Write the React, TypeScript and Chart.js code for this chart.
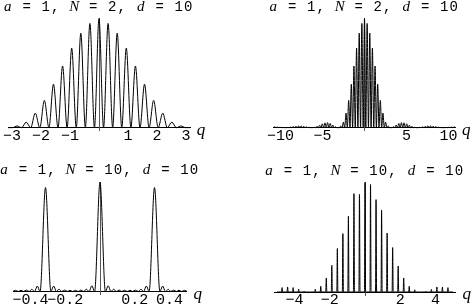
import React, { useEffect, useRef } from 'react';
import { Chart, registerables } from 'chart.js';

Chart.register(...registerables);

// ---------- text ----------
const topTitle = 'a = 1, N = 2, d = 10';
const bottomTitle = 'a = 1, N = 10, d = 10';
const axisName = 'q';

// ---------- tick labels ----------
const topLeftTicks = [-3, -2, -1, 1, 2, 3];
const topRightTicks = [-10, -5, 5, 10];
const bottomLeftTicks = [-0.4, -0.2, 0.2, 0.4];
const bottomRightTicks = [-4, -2, 2, 4];

// ---------- N = 2 pattern (fringe maxima and minima) ----------
const twoSlitQ = [
  -10.838, -10.681, -10.524, -10.367, -10.21, -10.053, -9.896, -9.739, -9.582, -9.425,
  -9.268, -9.111, -8.954, -8.796, -8.639, -8.482, -8.325, -8.168, -8.011, -7.854,
  -7.697, -7.54, -7.383, -7.226, -7.069, -6.912, -6.754, -6.597, -6.44, -6.283,
  -6.126, -5.969, -5.812, -5.655, -5.498, -5.341, -5.184, -5.027, -4.869, -4.712,
  -4.555, -4.398, -4.241, -4.084, -3.927, -3.77, -3.613, -3.456, -3.299, -3.142,
  -2.985, -2.827, -2.67, -2.513, -2.356, -2.199, -2.042, -1.885, -1.728, -1.571,
  -1.414, -1.257, -1.1, -0.942, -0.785, -0.628, -0.471, -0.314, -0.157, 0,
  0.157, 0.314, 0.471, 0.628, 0.785, 0.942, 1.1, 1.257, 1.414, 1.571,
  1.728, 1.885, 2.042, 2.199, 2.356, 2.513, 2.67, 2.827, 2.985, 3.142,
  3.299, 3.456, 3.613, 3.77, 3.927, 4.084, 4.241, 4.398, 4.555, 4.712,
  4.869, 5.027, 5.184, 5.341, 5.498, 5.655, 5.812, 5.969, 6.126, 6.283,
  6.44, 6.597, 6.754, 6.912, 7.069, 7.226, 7.383, 7.54, 7.697, 7.854,
  8.011, 8.168, 8.325, 8.482, 8.639, 8.796, 8.954, 9.111, 9.268, 9.425,
  9.582, 9.739, 9.896, 10.053, 10.21, 10.367, 10.524, 10.681, 10.838,
];
const twoSlitI = [
  0, 0.007, 0, 0.005, 0, 0.003, 0, 0.001, 0, 0,
  0, 0.001, 0, 0.004, 0, 0.009, 0, 0.013, 0, 0.016,
  0, 0.016, 0, 0.012, 0, 0.007, 0, 0.002, 0, 0,
  0, 0.003, 0, 0.011, 0, 0.022, 0, 0.035, 0, 0.044,
  0, 0.046, 0, 0.038, 0, 0.024, 0, 0.008, 0, 0,
  0, 0.015, 0, 0.05, 0, 0.133, 0, 0.25, 0, 0.398,
  0, 0.565, 0, 0.728, 0, 0.865, 0, 0.955, 0, 1.0,
  0, 0.955, 0, 0.865, 0, 0.728, 0, 0.565, 0, 0.398,
  0, 0.25, 0, 0.133, 0, 0.05, 0, 0.015, 0, 0,
  0, 0.008, 0, 0.024, 0, 0.038, 0, 0.046, 0, 0.044,
  0, 0.035, 0, 0.022, 0, 0.011, 0, 0.003, 0, 0,
  0, 0.002, 0, 0.007, 0, 0.012, 0, 0.016, 0, 0.016,
  0, 0.013, 0, 0.009, 0, 0.004, 0, 0.001, 0, 0,
  0, 0.001, 0, 0.003, 0, 0.005, 0, 0.007, 0,
];

// ---------- N = 10 pattern, close view (bottom-left panel) ----------
const tenSlitNearQ = [
  -0.503, -0.487, -0.471, -0.455, -0.44, -0.424, -0.408, -0.393, -0.377, -0.361,
  -0.345, -0.314, -0.283, -0.267, -0.251, -0.236, -0.22, -0.204, -0.188, -0.173,
  -0.157, -0.141, -0.126, -0.11, -0.094, -0.079, -0.063, -0.047, -0.031, 0,
  0.031, 0.047, 0.063, 0.079, 0.094, 0.11, 0.126, 0.141, 0.157, 0.173,
  0.188, 0.204, 0.22, 0.236, 0.251, 0.267, 0.283, 0.314, 0.345, 0.361,
  0.377, 0.393, 0.408, 0.424, 0.44, 0.455, 0.471, 0.487, 0.503,
];
const tenSlitNearI = [
  0, 0.011, 0, 0.011, 0, 0.013, 0, 0.02, 0, 0.05,
  0, 0.95, 0, 0.05, 0, 0.021, 0, 0.013, 0, 0.011,
  0, 0.011, 0, 0.013, 0, 0.021, 0, 0.052, 0, 1.0,
  0, 0.052, 0, 0.021, 0, 0.013, 0, 0.011, 0, 0.011,
  0, 0.013, 0, 0.021, 0, 0.05, 0, 0.95, 0, 0.05,
  0, 0.02, 0, 0.013, 0, 0.011, 0, 0.011, 0,
];

// ---------- N = 10 pattern, wide view (bottom-right panel) ----------
const tenSlitWideQ = [
  -5.0,
  -4.743, -4.712, -4.681, -4.429, -4.398, -4.367, -4.115, -4.084, -4.053,
  -3.801, -3.77, -3.739, -3.487, -3.456, -3.425, -3.173, -3.142, -3.111,
  -2.858, -2.827, -2.796, -2.544, -2.513, -2.482, -2.23, -2.199, -2.168,
  -1.916, -1.885, -1.854, -1.602, -1.571, -1.54, -1.288, -1.257, -1.226,
  -0.974, -0.943, -0.912, -0.659, -0.628, -0.597, -0.345, -0.314, -0.283,
  -0.031, 0, 0.031,
  0.283, 0.314, 0.345, 0.597, 0.628, 0.659, 0.912, 0.943, 0.974,
  1.226, 1.257, 1.288, 1.54, 1.571, 1.602, 1.854, 1.885, 1.916,
  2.168, 2.199, 2.23, 2.482, 2.513, 2.544, 2.796, 2.827, 2.858,
  3.111, 3.142, 3.173, 3.425, 3.456, 3.487, 3.739, 3.77, 3.801,
  4.053, 4.084, 4.115, 4.367, 4.398, 4.429, 4.681, 4.712, 4.743,
  5.0,
];
const tenSlitWideI = [
  0,
  0, 0.04, 0, 0, 0.046, 0, 0, 0.04, 0,
  0, 0.027, 0, 0, 0.008, 0, 0, 0, 0,
  0, 0.025, 0, 0, 0.052, 0, 0, 0.128, 0,
  0, 0.243, 0, 0, 0.396, 0, 0, 0.532, 0,
  0, 0.69, 0, 0, 0.897, 0, 0, 0.89, 0,
  0, 1.0, 0,
  0, 0.98, 0, 0, 0.842, 0, 0, 0.745, 0,
  0, 0.538, 0, 0, 0.405, 0, 0, 0.237, 0,
  0, 0.128, 0, 0, 0.052, 0, 0, 0.02, 0,
  0, 0, 0, 0, 0.008, 0, 0, 0.024, 0,
  0, 0.046, 0, 0, 0.046, 0, 0, 0.04, 0,
  0,
];

type Pad = { left: number; right: number; top: number; bottom: number };
type Panel = {
  left: number; top: number; width: number; height: number;
  title: string; titleY: number;
  q: number[]; I: number[]; ticks: number[];
  xMin: number; xMax: number; yMin: number; yMax: number;
  pad: Pad;
};

const panels: Panel[] = [
  {
    left: 0, top: 0, width: 236, height: 152, title: topTitle, titleY: 10.5,
    q: twoSlitQ, I: twoSlitI, ticks: topLeftTicks,
    xMin: -3.14, xMax: 3.14, yMin: -0.03, yMax: 1.0,
    pad: { left: 8, right: 46, top: 18.5, bottom: 21.1 },
  },
  {
    left: 236, top: 0, width: 237, height: 152, title: topTitle, titleY: 10.5,
    q: twoSlitQ, I: twoSlitI, ticks: topRightTicks,
    xMin: -10.8, xMax: 10.8, yMin: -0.03, yMax: 1.0,
    pad: { left: 37.8, right: 17.8, top: 18.5, bottom: 21.1 },
  },
  {
    left: 0, top: 152, width: 236, height: 153, title: bottomTitle, titleY: 22,
    q: tenSlitNearQ, I: tenSlitNearI, ticks: bottomLeftTicks,
    xMin: -0.5, xMax: 0.5, yMin: -0.03, yMax: 1.0,
    pad: { left: 13.2, right: 49.2, top: 30, bottom: 10.2 },
  },
  {
    left: 236, top: 152, width: 237, height: 153, title: bottomTitle, titleY: 22.5,
    q: tenSlitWideQ, I: tenSlitWideI, ticks: bottomRightTicks,
    xMin: -5.15, xMax: 5.15, yMin: -0.03, yMax: 1.0,
    pad: { left: 38.35, right: 17.35, top: 30.3, bottom: 9.7 },
  },
];

const fmt = (v: number | string) => {
  const n = Number(v);
  return n < 0 ? '\u2212' + String(Math.abs(n)) : String(n);
};

const decorPlugin = {
  id: 'decor',
  afterDraw(chart: any, _args: any, opts: any) {
    const ctx = chart.ctx as CanvasRenderingContext2D;
    const xs = chart.scales.x;
    const ys = chart.scales.y;
    const x0 = xs.getPixelForValue(0);
    const y0 = ys.getPixelForValue(0);
    ctx.save();
    ctx.fillStyle = '#000';
    const title: string = opts.title;
    const pitch = 9.5;
    const start = x0 - (title.length * pitch) / 2 - 1;
    ctx.textAlign = 'center';
    ctx.textBaseline = 'alphabetic';
    for (let i = 0; i < title.length; i++) {
      const ch = title[i];
      if (ch === ' ') continue;
      ctx.font = /[A-Za-z]/.test(ch)
        ? 'italic 15px "Liberation Serif"'
        : '14px "Liberation Mono"';
      ctx.fillText(ch, start + (i + 0.5) * pitch, opts.titleY);
    }
    ctx.font = 'italic 17px "Liberation Serif"';
    ctx.textBaseline = 'middle';
    ctx.fillText(axisName, xs.right + 11, y0 + 3);
    ctx.restore();
  },
};

export default function App() {
  const refs = useRef<(HTMLCanvasElement | null)[]>([]);

  useEffect(() => {
    const charts: Chart[] = [];
    panels.forEach((p, idx) => {
      const canvas = refs.current[idx];
      if (!canvas) return;
      const points = p.q.map((x, i) => ({ x, y: p.I[i] }));
      const chart = new Chart(canvas, {
        type: 'line',
        data: {
          datasets: [
            {
              data: points,
              borderColor: '#000',
              borderWidth: 1,
              pointRadius: 0,
              fill: false,
              cubicInterpolationMode: 'monotone',
              clip: { left: 0, right: 0, top: 6, bottom: 6 },
            } as any,
          ],
        },
        options: {
          responsive: false,
          animation: false,
          events: [],
          layout: { padding: p.pad },
          plugins: {
            legend: { display: false },
            tooltip: { enabled: false },
            decor: { title: p.title, titleY: p.titleY },
          } as any,
          scales: {
            x: {
              type: 'linear',
              min: p.xMin,
              max: p.xMax,
              position: { y: 0 } as any,
              grid: { display: false, drawTicks: false },
              border: { display: true, color: '#000', width: 1 },
              ticks: {
                autoSkip: false,
                maxRotation: 0,
                padding: 1,
                color: '#000',
                font: { family: '"Liberation Mono"', size: 15, lineHeight: 1 },
                callback: (v: any) => fmt(v),
              },
              afterBuildTicks: (s: any) => {
                s.ticks = p.ticks.map((v) => ({ value: v }));
              },
            },
            y: {
              type: 'linear',
              min: p.yMin,
              max: p.yMax,
              position: { x: 0 } as any,
              grid: { display: false, drawTicks: false },
              border: { display: true, color: '#555', width: 1 },
              ticks: { display: false },
            },
          },
        },
        plugins: [decorPlugin],
      });
      charts.push(chart);
    });
    return () => charts.forEach((c) => c.destroy());
  }, []);

  return (
    <div style={{ position: 'absolute', left: 0, top: 0, width: 473, height: 305, background: '#fff' }}>
      {panels.map((p, i) => (
        <canvas
          key={i}
          ref={(el) => { refs.current[i] = el; }}
          width={p.width}
          height={p.height}
          style={{ position: 'absolute', left: p.left, top: p.top, width: p.width, height: p.height }}
        />
      ))}
    </div>
  );
}
